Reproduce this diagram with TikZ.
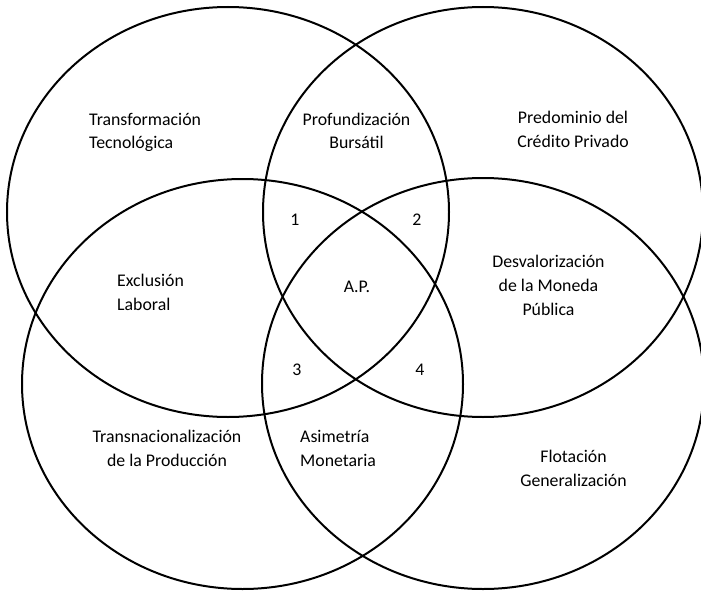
\documentclass[tikz,border=0pt]{standalone}
\usepackage{fontspec}
\setmainfont{Carlito}
\begin{document}
\begin{tikzpicture}[x=1pt,y=-1pt,
  ring/.style={line width=2pt},
  lbl/.style={inner sep=0pt, font=\fontsize{17.8}{24}\selectfont}]
\useasboundingbox (0,0) rectangle (701,591);
\fill[white] (0,0) rectangle (701,591);
\begin{scope}
  \clip (0,0) rectangle (701,591);
  \draw[ring] (228,212) ellipse [x radius=221pt, y radius=205pt];
  \draw[ring] (483,212) ellipse [x radius=220pt, y radius=205pt];
  \draw[ring] (242.5,384) ellipse [x radius=220.5pt, y radius=205pt];
  \draw[ring] (483,383.5) ellipse [x radius=221pt, y radius=205.5pt];
\end{scope}
\node[lbl, align=left, anchor=west] (TT) at (89,132.2) {\strut Transformación\\\strut Tecnológica};
\node[lbl, align=center] (PB) at (356.5,132.2) {\strut Profundización\\\strut Bursátil};
\node[lbl, align=center] (PC) at (573,130.2) {\strut Predominio del\\\strut Crédito Privado};
\node[lbl] (n1) at (295,220) {1};
\node[lbl] (n2) at (417,220) {2};
\node[lbl, align=left, anchor=west] (EL) at (117,293.2) {\strut Exclusión\\\strut Laboral};
\node[lbl] (AP) at (357,287) {A.P.};
\node[lbl, align=center] (DMP) at (548.5,286.2) {\strut Desvalorización\\\strut de la Moneda\\\strut Pública};
\node[lbl] (n3) at (297,370) {3};
\node[lbl] (n4) at (420,370) {4};
\node[lbl, align=center] (TP) at (167,449.2) {\strut Transnacionalización\\\strut de la Producción};
\node[lbl, align=left, anchor=west] (AM) at (300,449.2) {\strut Asimetría\\\strut Monetaria};
\node[lbl, align=center] (FG) at (573.5,469.2) {\strut Flotación\\\strut Generalización};
\end{tikzpicture}
\end{document}
